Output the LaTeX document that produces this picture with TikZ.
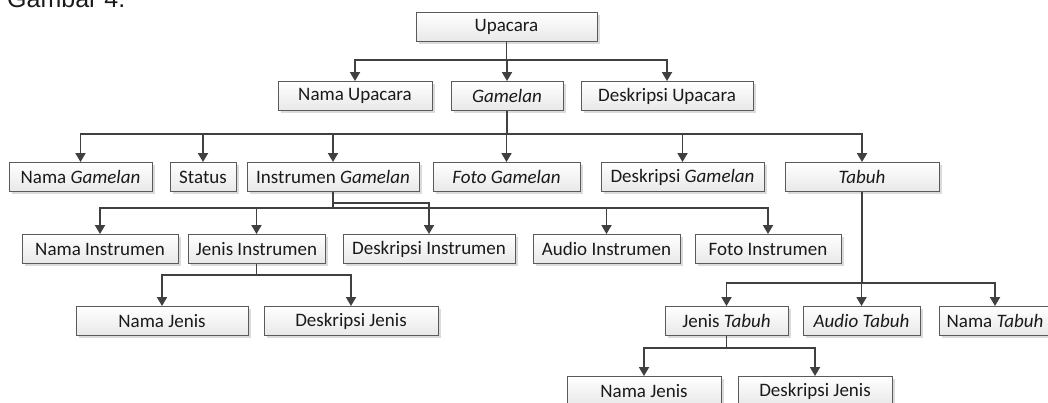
\documentclass[tikz,border=0pt]{standalone}
\usepackage{fontspec}
\setmainfont{Carlito}
\newfontfamily\capfont{Liberation Sans}
\usetikzlibrary{arrows.meta,shadows}
\definecolor{linec}{HTML}{404040}
\definecolor{boxline}{HTML}{5A5A5A}
\definecolor{txt}{HTML}{1A1A1A}
\begin{document}
\begin{tikzpicture}[x=1pt,y=-1pt,
  box/.style={draw=boxline, line width=0.9pt, top color=white, bottom color=black!9,
    minimum height=29pt, inner sep=0pt, text=txt,
    font=\fontsize{19}{22}\selectfont,
    drop shadow={shadow xshift=2.5pt, shadow yshift=-2.5pt, fill=black!14, opacity=1}},
  conn/.style={draw=linec, line width=1.8pt, -{Triangle[width=10pt,length=9pt]}},
  plain/.style={draw=linec, line width=1.8pt}]
\useasboundingbox (0,0) rectangle (1048,403);
\node[anchor=base west, inner sep=0pt, text=txt, font=\capfont\fontsize{25}{28}\selectfont] (cap) at (7,8) {Gambar 4.};
% bus coordinates
\coordinate (b1) at (0,60);
\coordinate (b2) at (0,134);
\coordinate (b3) at (0,208);
\coordinate (b3a) at (0,203);
\coordinate (b4) at (0,275);
\coordinate (b5) at (0,283);
\coordinate (b6) at (0,348);
% row 1
\node[box, minimum width=181pt] (up) at (506.5,27) {Upacara};
% row 2
\node[box, minimum width=154pt] (nu) at (355,96) {Nama Upacara};
\node[box, minimum width=112pt] (gm) at (507,96) {\textit{Gamelan}};
\node[box, minimum width=172pt] (du) at (667,96) {Deskripsi Upacara};
% row 3
\node[box, minimum width=143pt] (ng) at (80.5,177) {Nama \textit{Gamelan}};
\node[box, minimum width=66pt] (st) at (203,177) {Status};
\node[box, minimum width=172pt] (ig) at (333,177) {Instrumen \textit{Gamelan}};
\node[box, minimum width=147pt] (fg) at (506.5,177) {\textit{Foto Gamelan}};
\node[box, minimum width=163pt] (dg) at (682.5,177) {Deskripsi \textit{Gamelan}};
\node[box, minimum width=154pt] (tb) at (862,177) {\textit{Tabuh}};
% row 4
\node[box, minimum width=156pt] (ni) at (100,249) {Nama Instrumen};
\node[box, minimum width=137pt] (ji) at (256.5,249) {Jenis Instrumen};
\node[box, minimum width=172pt] (di) at (429,249) {Deskripsi Instrumen};
\node[box, minimum width=147pt] (ai) at (606.5,249) {Audio Instrumen};
\node[box, minimum width=146pt] (fi) at (768,249) {Foto Instrumen};
% row 5 left
\node[box, minimum width=172pt] (nj) at (162,321) {Nama Jenis};
\node[box, minimum width=174pt] (dj) at (351,321) {Deskripsi Jenis};
% row 6 right
\node[box, minimum width=123pt] (jt) at (726.5,321) {Jenis \textit{Tabuh}};
\node[box, minimum width=117pt] (atb) at (861.5,321) {\textit{Audio Tabuh}};
\node[box, minimum width=112pt] (nt) at (995,321) {Nama \textit{Tabuh}};
% row 7
\node[box, minimum width=154pt] (njt) at (644,391) {Nama Jenis};
\node[box, minimum width=154pt] (djt) at (815,391) {Deskripsi Jenis};
% connectors
\foreach \c in {nu,gm,du}{\draw[conn] (up.south) -- (up.south |- b1) -| (\c.north);}
\foreach \c in {ng,st,ig,fg,dg,tb}{\draw[conn] (gm.south) -- (gm.south |- b2) -| (\c.north);}
\foreach \c in {ni,ji,ai,fi}{\draw[conn] (ig.south) -- (ig.south |- b3) -| (\c.north);}
\draw[conn] (ig.south) -- (ig.south |- b3a) -| (di.north);
\foreach \c in {nj,dj}{\draw[conn] (ji.south) -- (ji.south |- b4) -| (\c.north);}
\foreach \c in {jt,atb,nt}{\draw[conn] (tb.south) -- (tb.south |- b5) -| (\c.north);}
\foreach \c in {njt,djt}{\draw[conn] (jt.south) -- (jt.south |- b6) -| (\c.north);}
\end{tikzpicture}
\end{document}
